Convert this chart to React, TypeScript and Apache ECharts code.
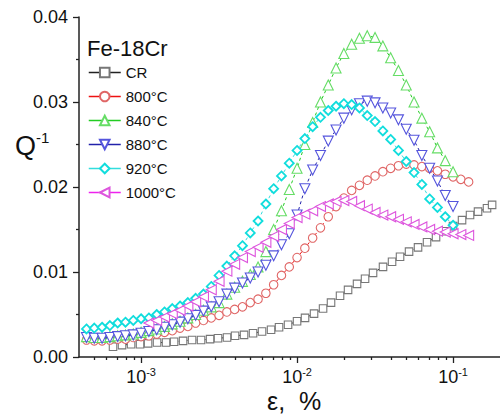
import React, { useEffect, useRef } from 'react';
import * as echarts from 'echarts';

// strain amplitude grid (%), shared by the annealed samples
const strainGrid = [
  4.467e-4, 5.012e-4, 5.623e-4, 6.31e-4, 7.079e-4, 7.943e-4, 8.913e-4,
  1.0e-3, 1.122e-3, 1.259e-3, 1.413e-3, 1.585e-3, 1.778e-3, 1.995e-3, 2.239e-3, 2.512e-3, 2.818e-3,
  3.162e-3, 3.548e-3, 3.981e-3, 4.467e-3, 5.012e-3, 5.623e-3, 6.31e-3, 7.079e-3, 7.943e-3, 8.913e-3,
  1.0e-2, 1.122e-2, 1.259e-2, 1.413e-2, 1.585e-2, 1.778e-2, 1.995e-2, 2.239e-2, 2.512e-2, 2.818e-2,
  3.162e-2, 3.548e-2, 3.981e-2, 4.467e-2, 5.012e-2, 5.623e-2, 6.31e-2, 7.079e-2, 7.943e-2, 8.913e-2,
  0.1, 0.1122, 0.1259, 0.1413, 0.1585, 0.1778,
];

const strainCR = [
  6.61e-4, 7.55e-4, 8.63e-4, 9.85e-4, 1.109e-3, 1.266e-3, 1.446e-3, 1.628e-3, 1.859e-3, 2.123e-3,
  2.424e-3, 2.769e-3, 3.114e-3, 3.557e-3, 4.004e-3, 4.573e-3, 5.223e-3, 5.964e-3, 6.812e-3, 7.665e-3,
  8.755e-3, 0.01, 0.01125, 0.01285, 0.01468, 0.01651, 0.01886, 0.02123, 0.02424, 0.02728,
  0.0307, 0.03557, 0.04064, 0.04573, 0.05223, 0.05964, 0.06812, 0.0778, 0.0888, 0.1,
  0.1142, 0.1285, 0.1446, 0.1651, 0.178,
];
const qCR = [
  0.0012, 0.0014, 0.0015, 0.0015, 0.0016, 0.0017, 0.0017, 0.0018, 0.0019, 0.002,
  0.002, 0.0021, 0.0022, 0.0023, 0.0025, 0.0026, 0.0028, 0.003, 0.0032, 0.0035,
  0.0038, 0.0042, 0.0046, 0.0051, 0.0057, 0.0064, 0.0072, 0.0079, 0.0086, 0.0092,
  0.0099, 0.0106, 0.0112, 0.0118, 0.0124, 0.0129, 0.0135, 0.0141, 0.0148, 0.0154,
  0.0161, 0.0167, 0.0171, 0.0175, 0.0179,
];

// values on strainGrid, starting at the index given in gridStart
const q800 = [
  0.002, 0.0019, 0.0019, 0.002, 0.0021, 0.0021, 0.0023, 0.0024, 0.0025, 0.0027,
  0.0029, 0.0031, 0.0034, 0.0036, 0.004, 0.0043, 0.0046, 0.0049, 0.0053, 0.0056,
  0.0059, 0.0064, 0.0068, 0.0075, 0.0085, 0.0096, 0.0106, 0.0117, 0.0128, 0.014,
  0.0152, 0.0165, 0.0177, 0.0187, 0.0196, 0.0202, 0.0208, 0.0213, 0.0218, 0.0222,
  0.0225, 0.0227, 0.0226, 0.0224, 0.0222, 0.0219, 0.0215, 0.0212, 0.0209, 0.0206,
];
const q840 = [
  0.0024, 0.0023, 0.0023, 0.0024, 0.0025, 0.0026, 0.0027, 0.0029, 0.0031, 0.0033,
  0.0036, 0.0039, 0.0042, 0.0046, 0.005, 0.0055, 0.0059, 0.0064, 0.0074, 0.0082,
  0.0089, 0.0097, 0.0106, 0.0124, 0.015, 0.0172, 0.0197, 0.0222, 0.025, 0.0276,
  0.03, 0.032, 0.034, 0.0357, 0.0368, 0.0375, 0.0378, 0.0376, 0.0366, 0.0352,
  0.0337, 0.032, 0.03, 0.0281, 0.0265, 0.0246, 0.0231, 0.0218,
];
const q880 = [
  0.0023, 0.0022, 0.0022, 0.0023, 0.0024, 0.0025, 0.0026, 0.0028, 0.003, 0.0032,
  0.0035, 0.0038, 0.0041, 0.0045, 0.0049, 0.0054, 0.0059, 0.0065, 0.0074, 0.0081,
  0.0087, 0.0093, 0.01, 0.0108, 0.0119, 0.0132, 0.0145, 0.0167, 0.0198, 0.022,
  0.0237, 0.0254, 0.0267, 0.0281, 0.0291, 0.0298, 0.0301, 0.0299, 0.0293, 0.0287,
  0.0279, 0.0268, 0.0255, 0.0237, 0.0222, 0.0207, 0.019, 0.0177,
];
const q920 = [
  0.0033, 0.0034, 0.0035, 0.0037, 0.004, 0.0041, 0.0043, 0.0045, 0.0046, 0.005,
  0.0053, 0.0057, 0.006, 0.0064, 0.0069, 0.0074, 0.0083, 0.0096, 0.0107, 0.0119,
  0.0131, 0.0146, 0.016, 0.018, 0.0198, 0.0213, 0.0228, 0.0243, 0.0257, 0.0271,
  0.0282, 0.029, 0.0295, 0.0298, 0.0297, 0.0293, 0.0284, 0.0277, 0.0266, 0.0256,
  0.0243, 0.023, 0.0217, 0.0203, 0.0186, 0.0176, 0.0165, 0.0155,
];
const q1000 = [
  0.004, 0.0043, 0.0047, 0.0051, 0.0055, 0.006, 0.0065, 0.0071, 0.0079, 0.0089,
  0.0101, 0.0109, 0.0117, 0.0124, 0.0129, 0.0135, 0.0142, 0.015, 0.0157, 0.0164,
  0.0168, 0.0172, 0.0177, 0.018, 0.0183, 0.0184, 0.0183, 0.0178, 0.0174, 0.017,
  0.0167, 0.0165, 0.0162, 0.0159, 0.0156, 0.0153, 0.015, 0.0148, 0.0147, 0.0145,
  0.0144, 0.0143,
];

const seriesNames = ['CR', '800°C', '840°C', '880°C', '920°C', '1000°C'];
const gridStart = [0, 0, 0, 0, 8];
const yTicks = [0, 0.01, 0.02, 0.03, 0.04];
const xMajorTicks = [1e-3, 1e-2, 1e-1];
const xMinorTicks = [
  5e-4, 6e-4, 7e-4, 8e-4, 9e-4,
  2e-3, 3e-3, 4e-3, 5e-3, 6e-3, 7e-3, 8e-3, 9e-3,
  2e-2, 3e-2, 4e-2, 5e-2, 6e-2, 7e-2, 8e-2, 9e-2,
];
const xRange = [4e-4, 0.2];

const FONT = '"Liberation Sans", Arial, sans-serif';
const AXIS_COLOR = '#222';

export default function App() {
  const ref = useRef<HTMLDivElement>(null);
  useEffect(() => {
    if (!ref.current) return;
    const chart = echarts.init(ref.current, null, { renderer: 'svg' });

    const pairs = (xs: number[], ys: number[], start = 0) =>
      ys.map((v, i) => [xs[i + start], v]);

    const styles = [
      { line: '#222222', mark: '#777777', symbol: 'rect', size: 7.5, rotate: 0, bw: 1.1 },
      { line: '#ee1111', mark: '#e06666', symbol: 'circle', size: 8.5, rotate: 0, bw: 1.1 },
      { line: '#22cc22', mark: '#66dd66', symbol: 'triangle', size: 10, rotate: 0, bw: 1.1 },
      { line: '#2222aa', mark: '#5555dd', symbol: 'triangle', size: 10, rotate: 180, bw: 1.1 },
      { line: '#33dddd', mark: '#11dddd', symbol: 'diamond', size: 9, rotate: 0, bw: 1.8 },
      { line: '#ee22ee', mark: '#dd55dd', symbol: 'triangle', size: 10, rotate: 90, bw: 1.1 },
    ];
    const datas = [
      pairs(strainCR, qCR),
      pairs(strainGrid, q800, gridStart[0]),
      pairs(strainGrid, q840, gridStart[1]),
      pairs(strainGrid, q880, gridStart[2]),
      pairs(strainGrid, q920, gridStart[3]),
      pairs(strainGrid, q1000, gridStart[4]),
    ];

    const lg = (v: number) => Math.log10(v);
    const tickLine = { color: AXIS_COLOR, width: 1.3 };

    chart.setOption({
      animation: false,
      backgroundColor: '#fff',
      grid: { left: 79, right: 0, top: 17, bottom: 59 },
      xAxis: [
        {
          type: 'log', logBase: 10, min: xRange[0], max: xRange[1], position: 'bottom',
          axisLine: { show: true, lineStyle: { color: AXIS_COLOR, width: 1.5 } },
          axisTick: { show: false }, axisLabel: { show: false },
          splitLine: { show: false }, minorTick: { show: false }, minorSplitLine: { show: false },
        },
        {
          type: 'value', min: lg(xRange[0]), max: lg(xRange[1]), position: 'bottom',
          axisLine: { show: false },
          axisTick: { show: true, customValues: xMinorTicks.map(lg), length: 3, lineStyle: tickLine },
          axisLabel: { show: false }, splitLine: { show: false },
        },
        {
          type: 'value', min: lg(xRange[0]), max: lg(xRange[1]), position: 'bottom',
          axisLine: { show: false },
          axisTick: { show: true, customValues: xMajorTicks.map(lg), length: 6, lineStyle: tickLine },
          axisLabel: {
            show: true, customValues: xMajorTicks.map(lg), margin: 9,
            formatter: (v: number) => `{b|10}{s|${Math.round(v)}}`,
            rich: {
              b: { fontSize: 18, fontFamily: FONT, color: '#111', lineHeight: 20, verticalAlign: 'bottom' },
              s: { fontSize: 11, fontFamily: FONT, color: '#111', lineHeight: 20, verticalAlign: 'top' },
            },
          },
          splitLine: { show: false },
        },
      ],
      yAxis: {
        type: 'value', min: yTicks[0], max: yTicks[yTicks.length - 1], interval: 0.01,
        axisLine: { show: true, lineStyle: { color: AXIS_COLOR, width: 1.5 } },
        axisTick: { show: true, length: 6, lineStyle: tickLine },
        minorTick: { show: true, splitNumber: 2, length: 3, lineStyle: tickLine },
        axisLabel: {
          formatter: (v: number) => v.toFixed(2), fontSize: 18, fontFamily: FONT, color: '#111', margin: 11,
        },
        splitLine: { show: false }, minorSplitLine: { show: false },
      },
      legend: {
        show: true, orient: 'vertical', left: 88, top: 65, itemWidth: 32, itemHeight: 12, itemGap: 9,
        padding: 0, data: seriesNames, selectedMode: false,
        textStyle: { fontSize: 15, fontFamily: FONT, color: '#111' },
        lineStyle: { type: 'solid', width: 1.5 },
      },
      graphic: [
        { type: 'text', x: 87, y: 48, style: { text: 'Fe-18Cr', fontSize: 22, fontFamily: FONT, fill: '#111', verticalAlign: 'middle', align: 'left' } },
        { type: 'text', x: 15, y: 146, style: { text: 'Q', fontSize: 27, fontFamily: FONT, fill: '#111', verticalAlign: 'middle', align: 'left' } },
        { type: 'text', x: 36, y: 137, style: { text: '-1', fontSize: 15, fontFamily: FONT, fill: '#111', verticalAlign: 'middle', align: 'left' } },
        { type: 'text', x: 267, y: 401, style: { text: 'ε,  %', fontSize: 25, fontFamily: FONT, fill: '#111', verticalAlign: 'middle', align: 'left' } },
      ],
      series: seriesNames.map((name, i) => ({
        name, type: 'line', xAxisIndex: 0, yAxisIndex: 0, data: datas[i],
        symbol: styles[i].symbol, symbolSize: styles[i].size, symbolRotate: styles[i].rotate,
        showSymbol: true, showAllSymbol: true,
        lineStyle: { color: styles[i].line, width: 1, type: [3, 3] },
        itemStyle: { color: '#ffffff', borderColor: styles[i].mark, borderWidth: styles[i].bw },
        emphasis: { disabled: true },
        z: 2 + i,
      })),
    });
    return () => chart.dispose();
  }, []);
  return (
    <div
      ref={ref}
      style={{ position: 'fixed', left: 0, top: 0, width: 500, height: 416, background: '#fff' }}
    />
  );
}
